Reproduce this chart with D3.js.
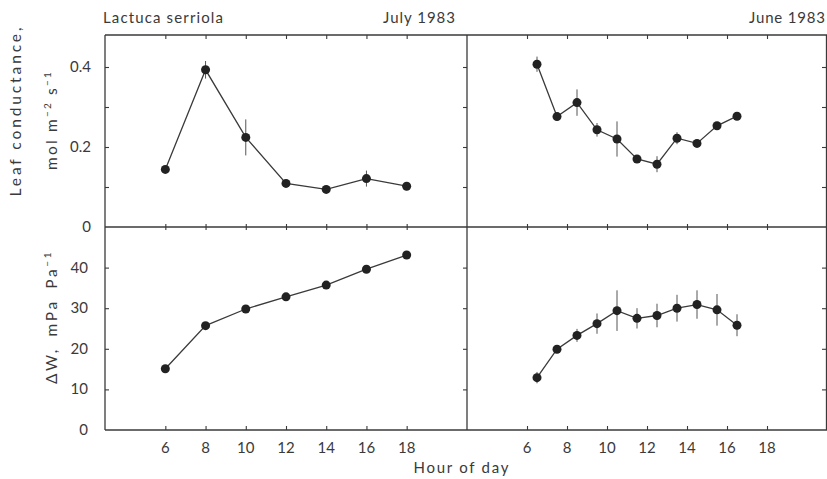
<!DOCTYPE html>
<html><head><meta charset="utf-8">
<script src="https://cdn.jsdelivr.net/npm/d3@7"></script>
<style>
html,body{margin:0;padding:0;background:#fff;}
svg{display:block;font-family:Lato,"Open Sans",sans-serif;}
</style></head>
<body><svg id="c" width="827" height="479"></svg>
<script>
// ---- data ----
const hoursJuly = [6, 8, 10, 12, 14, 16, 18];
const condJuly = [0.144, 0.393, 0.224, 0.109, 0.094, 0.121, 0.102];
const condJulyErr = [0.005, 0.022, 0.045, 0.006, 0.005, 0.02, 0.01];
const dwJuly = [15.1, 25.7, 29.8, 32.8, 35.7, 39.6, 43.1];
const dwJulyErr = [0, 0, 0, 0, 0, 0, 0];

const hoursJune = [6.5, 7.5, 8.5, 9.5, 10.5, 11.5, 12.5, 13.5, 14.5, 15.5, 16.5];
const condJune = [0.407, 0.276, 0.311, 0.243, 0.220, 0.170, 0.157, 0.222, 0.209, 0.253, 0.277];
const condJuneErr = [0.019, 0.01, 0.033, 0.017, 0.044, 0.008, 0.02, 0.015, 0.008, 0.006, 0.006];
const dwJune = [12.9, 19.9, 23.3, 26.2, 29.4, 27.5, 28.2, 30.0, 30.9, 29.6, 25.8];
const dwJuneErr = [1.4, 0.8, 1.6, 2.5, 5.0, 2.5, 2.9, 3.3, 3.5, 3.9, 2.7];

const xTicks = [6, 8, 10, 12, 14, 16, 18];
const condTicks = [0, 0.1, 0.2, 0.3, 0.4];
const condLabels = ["0", "", "0.2", "", "0.4"];
const dwTicks = [0, 10, 20, 30, 40];
const dwLabels = ["0", "10", "20", "30", "40"];

// ---- layout ----
const svg = d3.select("#c");
const ink = "#3a3a3a";
const L = 105, M = 467, R = 827, T = 35, MID = 227, B = 430;

const xLeft = d3.scaleLinear().domain([3, 21]).range([L, M]);
const xRight = d3.scaleLinear().domain([3, 21]).range([M, R]);
const yTop = d3.scaleLinear().domain([0, 0.48]).range([MID, T]);
const yBot = d3.scaleLinear().domain([0, 50]).range([B, MID]);

// frame
const frame = svg.append("g").attr("stroke", ink).attr("stroke-width", 1.3).attr("fill", "none");
frame.append("line").attr("x1", L).attr("x2", R).attr("y1", T).attr("y2", T);
frame.append("line").attr("x1", L).attr("x2", R).attr("y1", MID).attr("y2", MID);
frame.append("line").attr("x1", L).attr("x2", R).attr("y1", B).attr("y2", B);
frame.append("line").attr("x1", L).attr("x2", L).attr("y1", T).attr("y2", B);
frame.append("line").attr("x1", M).attr("x2", M).attr("y1", T).attr("y2", B);
frame.append("line").attr("x1", R - 0.5).attr("x2", R - 0.5).attr("y1", T).attr("y2", B);

// x ticks using axes (inside ticks)
function xAxes(xs) {
  svg.append("g").attr("transform", `translate(0,${T})`)
    .call(d3.axisBottom(xs).tickValues(xTicks).tickSize(4).tickFormat(""))
    .call(g => g.select(".domain").remove());
  svg.append("g").attr("transform", `translate(0,${MID})`)
    .call(d3.axisBottom(xs).tickValues(xTicks).tickSize(3).tickFormat(""))
    .call(g => g.select(".domain").remove());
  svg.append("g").attr("transform", `translate(0,${MID})`)
    .call(d3.axisTop(xs).tickValues(xTicks).tickSize(3).tickFormat(""))
    .call(g => g.select(".domain").remove());
  svg.append("g").attr("transform", `translate(0,${B})`)
    .call(d3.axisTop(xs).tickValues(xTicks).tickSize(4).tickFormat(""))
    .call(g => g.select(".domain").remove());
  svg.append("g").selectAll("text").data(xTicks).join("text")
    .attr("x", d => xs(d)).attr("y", 453)
    .attr("text-anchor", "middle").attr("font-size", 15).attr("fill", ink)
    .text(d => d);
}
xAxes(xLeft); xAxes(xRight);
svg.selectAll(".tick line").attr("stroke", ink).attr("stroke-width", 1.1);

// y ticks
function yTicksAt(x, ys, vals, dir) {
  const ax = dir > 0 ? d3.axisRight(ys) : d3.axisLeft(ys);
  svg.append("g").attr("transform", `translate(${x},0)`)
    .call(ax.tickValues(vals).tickSize(4).tickFormat(""))
    .call(g => g.select(".domain").remove())
    .selectAll("line").attr("stroke", ink).attr("stroke-width", 1.1);
}
yTicksAt(L, yTop, condTicks.slice(1), 1);
yTicksAt(L, yBot, dwTicks.slice(1), 1);
yTicksAt(M, yTop, condTicks.slice(1), -1);
yTicksAt(M, yBot, dwTicks.slice(1), -1);
yTicksAt(R - 1, yTop, condTicks.slice(1), -1);
yTicksAt(R - 1, yBot, dwTicks.slice(1), -1);

// y labels
svg.append("g").selectAll("text").data(condTicks.map((v, i) => [v, condLabels[i]]).filter(d => d[1] !== ""))
  .join("text").attr("x", 91).attr("y", d => yTop(d[0]) + 5)
  .attr("text-anchor", "end").attr("font-size", 15).attr("fill", ink).text(d => d[1]);
svg.append("g").selectAll("text").data(dwTicks.map((v, i) => [v, dwLabels[i]]).filter(d => d[0] !== 0))
  .join("text").attr("x", 88).attr("y", d => yBot(d[0]) + 5)
  .attr("text-anchor", "end").attr("font-size", 15).attr("fill", ink).text(d => d[1]);
svg.append("text").attr("x", 88).attr("y", yBot(0) + 5).attr("text-anchor", "end")
  .attr("font-size", 15).attr("fill", ink).text("0");

// series
function series(xs, ys, hrs, vals, errs) {
  const g = svg.append("g");
  g.selectAll("line.err").data(hrs).join("line").attr("class", "err")
    .attr("x1", (d) => xs(d)).attr("x2", d => xs(d))
    .attr("y1", (d, i) => ys(vals[i] - errs[i])).attr("y2", (d, i) => ys(vals[i] + errs[i]))
    .attr("stroke", "#555").attr("stroke-width", 1);
  g.append("path").datum(hrs.map((h, i) => [h, vals[i]]))
    .attr("d", d3.line().x(d => xs(d[0])).y(d => ys(d[1])))
    .attr("fill", "none").attr("stroke", ink).attr("stroke-width", 1.3);
  g.selectAll("circle").data(hrs).join("circle")
    .attr("cx", d => xs(d)).attr("cy", (d, i) => ys(vals[i])).attr("r", 4.5)
    .attr("fill", "#222");
}
series(xLeft, yTop, hoursJuly, condJuly, condJulyErr);
series(xLeft, yBot, hoursJuly, dwJuly, dwJulyErr);
series(xRight, yTop, hoursJune, condJune, condJuneErr);
series(xRight, yBot, hoursJune, dwJune, dwJuneErr);

// headers
function txt(x, y, s, size, anchor, len) {
  const t = svg.append("text").attr("x", x).attr("y", y).attr("font-size", size)
    .attr("text-anchor", anchor).attr("fill", ink).text(s);
  if (len) t.attr("textLength", len).attr("lengthAdjust", "spacing");
  return t;
}
txt(103, 23, "Lactuca serriola", 15, "start", 120);
txt(455, 23, "July 1983", 15, "end", 72);
txt(825, 23, "June 1983", 15, "end", 76);
txt(461, 473, "Hour of day", 15, "middle", 95);

// rotated y titles
svg.append("text").attr("transform", "translate(21,112) rotate(-90)")
  .attr("text-anchor", "middle").attr("font-size", 15.5).attr("fill", ink)
  .attr("textLength", 169).attr("lengthAdjust", "spacing").text("Leaf conductance,");
const t2 = svg.append("text").attr("transform", "translate(57,120) rotate(-90)")
  .attr("text-anchor", "middle").attr("font-size", 15.5).attr("fill", ink)
  .attr("letter-spacing", 2.2);
t2.append("tspan").text("mol m");
t2.append("tspan").attr("dy", -6).attr("font-size", 10).text("−2");
t2.append("tspan").attr("dy", 6).text(" s");
t2.append("tspan").attr("dy", -6).attr("font-size", 10).text("−1");
const t3 = svg.append("text").attr("transform", "translate(57,317) rotate(-90)")
  .attr("text-anchor", "middle").attr("font-size", 15.5).attr("fill", ink)
  .attr("letter-spacing", 2.6).attr("word-spacing", 4);
t3.append("tspan").text("ΔW, mPa Pa");
t3.append("tspan").attr("dy", -6).attr("font-size", 10).text("−1");
</script></body></html>
